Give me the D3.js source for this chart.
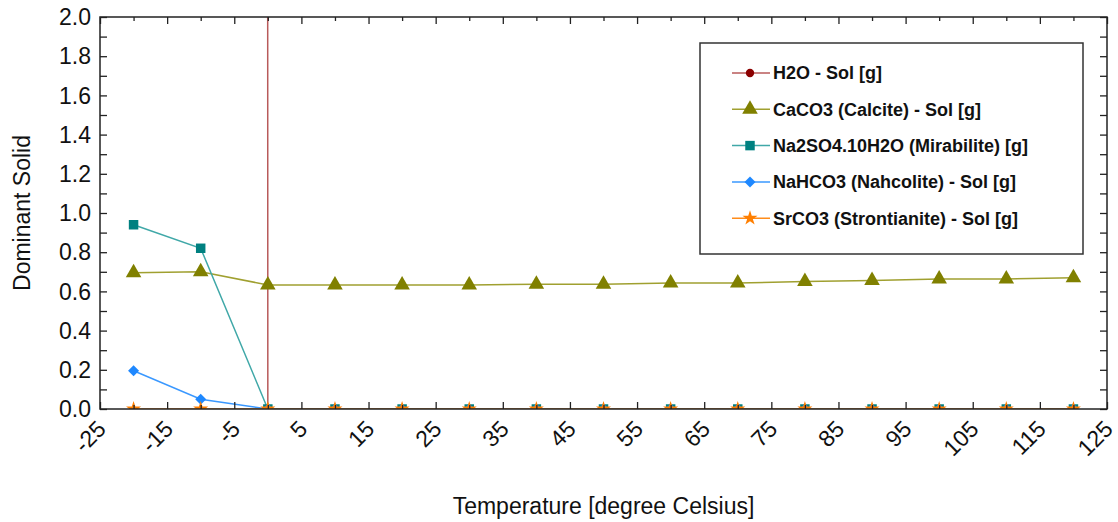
<!DOCTYPE html>
<html>
<head>
<meta charset="utf-8">
<script src="https://cdn.jsdelivr.net/npm/d3@7"></script>
<style>
  body { margin: 0; background: #fff; }
  svg { display: block; font-family: "Liberation Sans", Arial, sans-serif; }
</style>
</head>
<body>
<svg id="chart" width="1118" height="522"></svg>
<script>
// temperatures (degree Celsius)
var temps = [-20, -10, 0, 10, 20, 30, 40, 50, 60, 70, 80, 90, 100, 110, 120];

// series values, grams
var h2o = [1000, 1000, 0, 0, 0, 0, 0, 0, 0, 0, 0, 0, 0, 0, 0];
var calcite = [0.695, 0.70, 0.633, 0.633, 0.633, 0.633, 0.637, 0.637, 0.643, 0.643, 0.65, 0.656, 0.663, 0.663, 0.67];
var mirabilite = [0.94, 0.82, 0, 0, 0, 0, 0, 0, 0, 0, 0, 0, 0, 0, 0];
var nahcolite = [0.195, 0.05, 0, 0, 0, 0, 0, 0, 0, 0, 0, 0, 0, 0, 0];
var strontianite = [0, 0, 0, 0, 0, 0, 0, 0, 0, 0, 0, 0, 0, 0, 0];

var seriesNames = [
  'H2O - Sol [g]',
  'CaCO3 (Calcite) - Sol [g]',
  'Na2SO4.10H2O (Mirabilite) [g]',
  'NaHCO3 (Nahcolite) - Sol [g]',
  'SrCO3 (Strontianite) - Sol [g]'
];

var xTickLabels = [-25, -15, -5, 5, 15, 25, 35, 45, 55, 65, 75, 85, 95, 105, 115, 125];
var yTickLabels = ['0.0', '0.2', '0.4', '0.6', '0.8', '1.0', '1.2', '1.4', '1.6', '1.8', '2.0'];

var series = [
  {name: seriesNames[0], values: h2o, line: '#b85a5a', fill: '#8b0000', symbol: d3.symbolCircle, size: 55, rot: 0},
  {name: seriesNames[1], values: calcite, line: '#a0a030', fill: '#808000', symbol: d3.symbolTriangle, size: 105, rot: 0},
  {name: seriesNames[2], values: mirabilite, line: '#40a8a8', fill: '#008080', symbol: d3.symbolSquare, size: 90, rot: 0},
  {name: seriesNames[3], values: nahcolite, line: '#3a98ff', fill: '#1e88ff', symbol: d3.symbolSquare, size: 60, rot: 45},
  {name: seriesNames[4], values: strontianite, line: '#ff8c1a', fill: '#ff7f00', symbol: d3.symbolStar, size: 70, rot: 0}
];

var margin = {left: 100, top: 17, right: 11, bottom: 113};
var svg = d3.select('#chart');
var W = +svg.attr('width'), H = +svg.attr('height');

var x = d3.scaleLinear().domain([-25, 125]).range([margin.left, W - margin.right]);
var y = d3.scaleLinear().domain([0, 2]).range([H - margin.bottom, margin.top]);

svg.append('defs').append('clipPath').attr('id', 'plotClip')
  .append('rect')
  .attr('x', x(-25)).attr('y', y(2))
  .attr('width', x(125) - x(-25)).attr('height', y(0) - y(2));

var plot = svg.append('g').attr('clip-path', 'url(#plotClip)');

var line = d3.line()
  .x(function(d) { return x(d[0]); })
  .y(function(d) { return y(d[1]); });

series.forEach(function(s) {
  var pts = temps.map(function(t, i) { return [t, s.values[i]]; });
  plot.append('path')
    .attr('d', line(pts))
    .attr('fill', 'none')
    .attr('stroke', s.line)
    .attr('stroke-width', 1.5);
});

series.forEach(function(s) {
  var pts = temps.map(function(t, i) { return [t, s.values[i]]; });
  plot.selectAll(null)
    .data(pts)
    .enter().append('path')
    .attr('d', d3.symbol().type(s.symbol).size(s.size))
    .attr('transform', function(d) {
      return 'translate(' + x(d[0]) + ',' + y(d[1]) + ') rotate(' + s.rot + ')';
    })
    .attr('fill', s.fill);
});

// axes, ticks pointing inwards
var xMinor = d3.range(-20, 125, 10);
var yMinor = d3.range(0.1, 2, 0.2);

svg.append('g')
  .attr('transform', 'translate(0,' + y(0) + ')')
  .call(d3.axisBottom(x).tickValues(xTickLabels).tickSize(-7).tickFormat(''));
svg.append('g')
  .attr('transform', 'translate(0,' + y(0) + ')')
  .call(d3.axisBottom(x).tickValues(xMinor).tickSize(-4).tickFormat(''));
svg.append('g')
  .attr('transform', 'translate(0,' + y(2) + ')')
  .call(d3.axisTop(x).tickValues(xTickLabels).tickSize(-7).tickFormat(''));
svg.append('g')
  .attr('transform', 'translate(0,' + y(2) + ')')
  .call(d3.axisTop(x).tickValues(xMinor).tickSize(-4).tickFormat(''));

var yMajor = yTickLabels.map(Number);
svg.append('g')
  .attr('transform', 'translate(' + x(-25) + ',0)')
  .call(d3.axisLeft(y).tickValues(yMajor).tickSize(-7).tickFormat(''));
svg.append('g')
  .attr('transform', 'translate(' + x(-25) + ',0)')
  .call(d3.axisLeft(y).tickValues(yMinor).tickSize(-7).tickFormat(''));
svg.append('g')
  .attr('transform', 'translate(' + x(125) + ',0)')
  .call(d3.axisRight(y).tickValues(yMajor).tickSize(-7).tickFormat(''));
svg.append('g')
  .attr('transform', 'translate(' + x(125) + ',0)')
  .call(d3.axisRight(y).tickValues(yMinor).tickSize(-7).tickFormat(''));

svg.selectAll('.domain').attr('stroke', 'none');
svg.selectAll('.tick line').attr('stroke', '#222').attr('stroke-width', 1.3);

svg.append('rect')
  .attr('x', x(-25)).attr('y', y(2))
  .attr('width', x(125) - x(-25)).attr('height', y(0) - y(2))
  .attr('fill', 'none')
  .attr('stroke', '#222')
  .attr('stroke-width', 1.5);

// tick labels
svg.selectAll('.ylab')
  .data(yTickLabels)
  .enter().append('text')
  .attr('x', x(-25) - 9)
  .attr('y', function(d) { return y(+d); })
  .attr('dy', '0.36em')
  .attr('text-anchor', 'end')
  .attr('font-size', 23)
  .attr('fill', '#111')
  .text(function(d) { return d; });

svg.selectAll('.xlab')
  .data(xTickLabels)
  .enter().append('text')
  .attr('transform', function(d) {
    return 'translate(' + (x(d) - 4) + ',' + (y(0) + 10) + ') rotate(-45)';
  })
  .attr('text-anchor', 'end')
  .attr('dy', '0.7em')
  .attr('font-size', 23)
  .attr('fill', '#111')
  .text(function(d) { return d; });

// axis titles
svg.append('text')
  .attr('x', (x(-25) + x(125)) / 2)
  .attr('y', 514)
  .attr('text-anchor', 'middle')
  .attr('font-size', 23)
  .attr('fill', '#111')
  .text('Temperature [degree Celsius]');

svg.append('text')
  .attr('transform', 'translate(30,' + y(1) + ') rotate(-90)')
  .attr('text-anchor', 'middle')
  .attr('font-size', 23)
  .attr('fill', '#111')
  .text('Dominant Solid');

// legend
var legend = svg.append('g').attr('transform', 'translate(700,43)');
legend.append('rect')
  .attr('width', 383).attr('height', 211)
  .attr('fill', '#fff')
  .attr('stroke', '#333')
  .attr('stroke-width', 1.5);

var rows = legend.selectAll('.row')
  .data(series)
  .enter().append('g')
  .attr('transform', function(d, i) { return 'translate(0,' + (30 + i * 36.3) + ')'; });

rows.append('line')
  .attr('x1', 32).attr('x2', 70)
  .attr('stroke', function(d) { return d.line; })
  .attr('stroke-width', 1.5);
rows.append('path')
  .attr('d', function(d) { return d3.symbol().type(d.symbol).size(d.size)(); })
  .attr('transform', function(d) { return 'translate(50,0) rotate(' + d.rot + ')'; })
  .attr('fill', function(d) { return d.fill; });
rows.append('text')
  .attr('x', 73)
  .attr('dy', '0.35em')
  .attr('font-size', 18)
  .attr('font-weight', 'bold')
  .attr('fill', '#111')
  .text(function(d) { return d.name; });
</script>
</body>
</html>
